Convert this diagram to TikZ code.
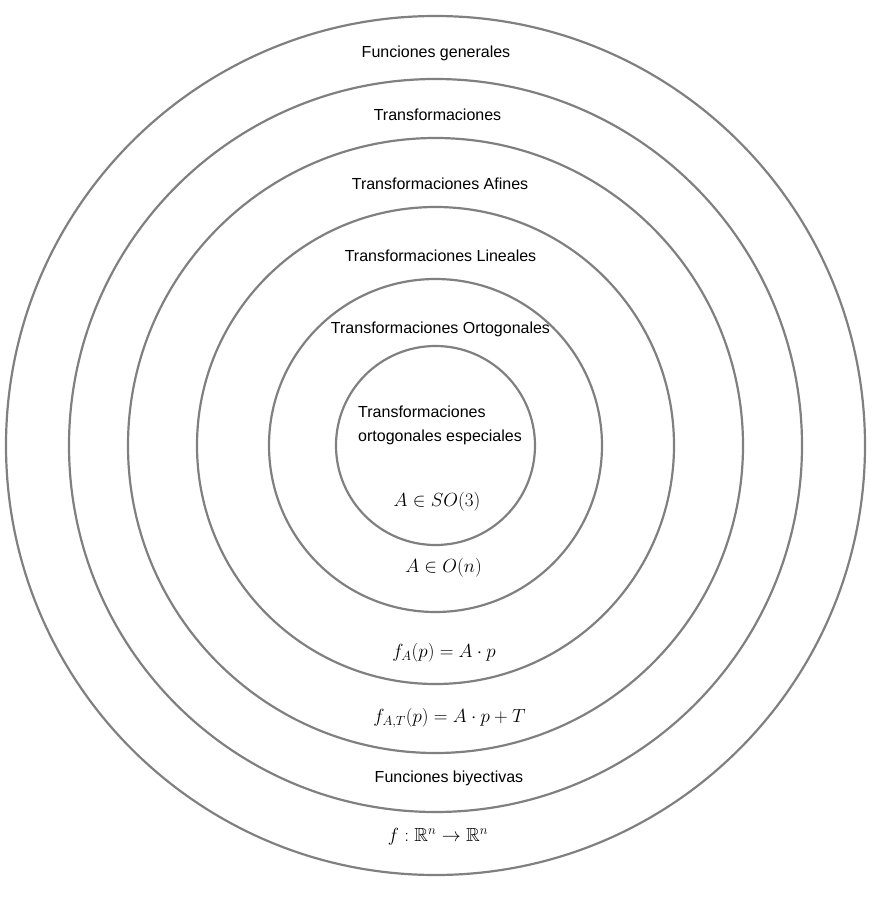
\RequirePackage{fix-cm}
\documentclass[tikz,border=0pt]{standalone}
\usepackage{amsmath,amssymb}
\usepackage{fontspec}
\newfontfamily\arialf{Liberation Sans}
\tikzset{
  ring/.style={draw=black!50, line width=2.2pt},
  lbl/.style={font=\arialf\fontsize{16}{24}\selectfont, inner sep=0pt, anchor=center},
  mlbl/.style={font=\fontsize{19}{23}\selectfont, inner sep=0pt, anchor=center}
}
\begin{document}
\begin{tikzpicture}[x=1pt,y=-1pt]
\useasboundingbox (0,0) rectangle (877,905);
\coordinate (c) at (435.5,445.5);
\draw[ring] (c) circle[radius=429.5];
\draw[ring] (c) circle[radius=366.5];
\draw[ring] (c) circle[radius=307.5];
\draw[ring] (c) circle[radius=238.5];
\draw[ring] (c) circle[radius=166.5];
\draw[ring] (c) circle[radius=99.5];
\node[lbl] (t1) at (436,53.5) {Funciones generales};
\node[lbl] (t2) at (437.5,114.5) {Transformaciones};
\node[lbl] (t3) at (440,183.5) {Transformaciones Afines};
\node[lbl] (t4) at (440.5,255.5) {Transformaciones Lineales};
\node[lbl] (t5) at (440.5,329.5) {Transformaciones Ortogonales};
\node[lbl, anchor=west, align=left] (t6) at (358,425.5) {Transformaciones\\ortogonales especiales};
\node[mlbl] (m1) at (437,502) {$A \in SO(3)$};
\node[mlbl] (m2) at (443.5,568) {$A \in O(n)$};
\node[mlbl] (m3) at (444,653) {$f_A(p) = A \cdot p$};
\node[mlbl] (m4) at (449.5,718) {$f_{A,T}(p) = A \cdot p + T$};
\node[lbl] (t7) at (449,778.5) {Funciones biyectivas};
\node[mlbl] (m5) at (438,837) {$f : \mathbb{R}^n \to \mathbb{R}^n$};
\end{tikzpicture}
\end{document}
